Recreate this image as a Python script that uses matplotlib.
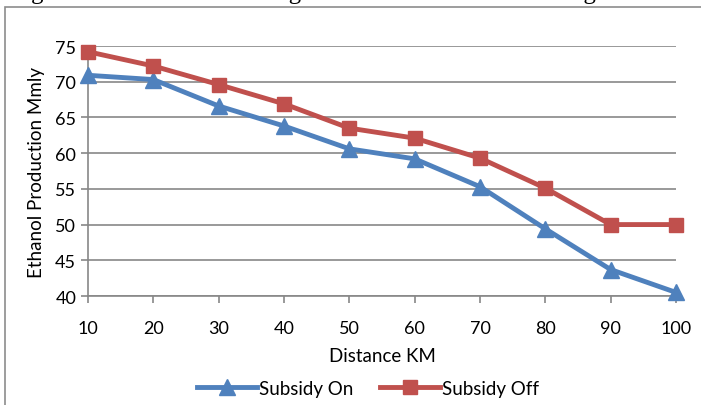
import matplotlib.pyplot as plt
from matplotlib.patches import Rectangle

# Ethanol production vs. haul distance, with and without subsidy
distance = [10, 20, 30, 40, 50, 60, 70, 80, 90, 100]
subsidy_on = [70.9, 70.3, 66.6, 63.8, 60.6, 59.2, 55.3, 49.4, 43.7, 40.5]
subsidy_off = [74.2, 72.2, 69.6, 66.9, 63.5, 62.1, 59.3, 55.1, 50.0, 50.0]
y_ticks = [40, 45, 50, 55, 60, 65, 70, 75]

blue = '#4F81BD'
red = '#C0504D'
grid_gray = '#878787'

plt.rcParams['font.family'] = ['Lato', 'DejaVu Sans']

fig = plt.figure(figsize=(7.01, 4.06), dpi=100)
ax = fig.add_axes([88 / 701, 1 - 297 / 406, (676 - 88) / 701, (297 - 47) / 406])

ax.plot(distance, subsidy_on, color=blue, lw=3.5, marker='^', ms=11,
        label='Subsidy On', clip_on=False, zorder=3)
ax.plot(distance, subsidy_off, color=red, lw=3.5, marker='s', ms=10,
        label='Subsidy Off', clip_on=False, zorder=4)

ax.set_xlim(10, 100)
ax.set_ylim(40, 75)
ax.set_xticks(distance)
ax.set_yticks(y_ticks)
ax.yaxis.grid(True, color=grid_gray, lw=1.2)
ax.set_axisbelow(True)

for side in ['top', 'right']:
    ax.spines[side].set_visible(False)
for side in ['left', 'bottom']:
    ax.spines[side].set_color(grid_gray)
    ax.spines[side].set_linewidth(1.2)

ax.tick_params(axis='both', colors=grid_gray, labelcolor='black',
               labelsize=13, length=5, width=1.2)
ax.tick_params(axis='x', pad=12)

ax.set_xlabel('Distance KM', fontsize=13.5, labelpad=8)
ax.set_ylabel('Ethanol Production Mmly', fontsize=13.5, labelpad=7)

ax.legend(loc='center', bbox_to_anchor=(0.476, -0.37), ncol=2, frameon=False,
          fontsize=13.5, handlelength=3.2, columnspacing=1.4, handletextpad=0.1)

# outer chart frame
fig.patches.append(Rectangle((5 / 701, -0.1), 1.2, 1.1 - 8 / 406,
                             transform=fig.transFigure, fill=False,
                             edgecolor='#8c8c8c', lw=1.2))

# caption above the chart, mostly cut off by the page edge
fig.text(10 / 701, 1 + 1 / 406, 'Figure 5: Ethanol Total Range of Production Under Changed Distance',
         family='Liberation Serif', fontsize=18, va='baseline', ha='left')

fig.savefig('out.png', dpi=100)
